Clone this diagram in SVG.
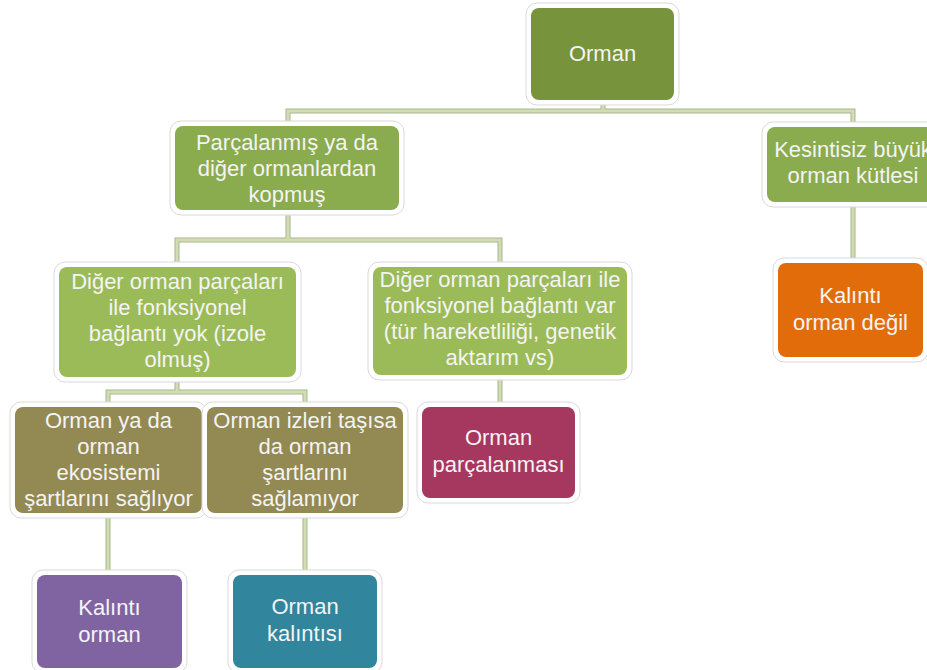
<svg xmlns="http://www.w3.org/2000/svg" width="927" height="670" viewBox="0 0 927 670">
<style>
.halo{fill:#ffffff;stroke:#d9d9d9;stroke-width:1}
.box{stroke:none}
.t{font-family:"Liberation Sans",Arial,sans-serif;font-size:22px;fill:#f4f4f4;text-anchor:middle}
.ce{fill:none;stroke:#a8b68c;stroke-width:5;stroke-linejoin:miter}
.ci{fill:none;stroke:#d2ddb4;stroke-width:3;stroke-linejoin:miter}
</style>
<rect width="927" height="670" fill="#ffffff"/>
<g id="connectors">
<path class="ce" d="M603,100V111M288,126V111H853V127M288,210V240M177,267V240H500V267M853,202V263M500,375V407M177,377V392M108,407V392H305V407M108,513V575M305,513V575"/>
<path class="ci" d="M603,100V111M288,126V111H853V127M288,210V240M177,267V240H500V267M853,202V263M500,375V407M177,377V392M108,407V392H305V407M108,513V575M305,513V575"/>
</g>
<g id="n-orman">
<rect class="halo" x="526" y="3" width="153" height="102" rx="11"/>
<rect class="box" x="531" y="8" width="143" height="92" rx="8" fill="#77933c"/>
<text class="t" x="602.5" y="61">Orman</text>
</g>
<g id="n-parcalanmis">
<rect class="halo" x="170" y="121" width="234" height="94" rx="11"/>
<rect class="box" x="175" y="126" width="224" height="84" rx="8" fill="#8aab4e"/>
<text class="t" x="287" y="150">Parçalanmış ya da</text>
<text class="t" x="287" y="176">diğer ormanlardan</text>
<text class="t" x="287" y="202">kopmuş</text>
</g>
<g id="n-kesintisiz">
<rect class="halo" x="762" y="122" width="182" height="85" rx="11"/>
<rect class="box" x="767" y="127" width="172" height="75" rx="8" fill="#8aab4e"/>
<text class="t" x="853" y="157">Kesintisiz büyük</text>
<text class="t" x="853" y="183">orman kütlesi</text>
</g>
<g id="n-kalinti-degil">
<rect class="halo" x="773" y="258" width="155" height="104" rx="11"/>
<rect class="box" x="778" y="263" width="145" height="94" rx="8" fill="#e36c0a"/>
<text class="t" x="850.5" y="303">Kalıntı</text>
<text class="t" x="850.5" y="330">orman değil</text>
</g>
<g id="n-izole">
<rect class="halo" x="54" y="262" width="247" height="120" rx="11"/>
<rect class="box" x="59" y="267" width="237" height="110" rx="8" fill="#9bbb59"/>
<text class="t" x="177.5" y="289">Diğer orman parçaları</text>
<text class="t" x="177.5" y="315">ile fonksiyonel</text>
<text class="t" x="177.5" y="341">bağlantı yok (izole</text>
<text class="t" x="177.5" y="367">olmuş)</text>
</g>
<g id="n-baglanti-var">
<rect class="halo" x="368" y="262" width="264" height="118" rx="11"/>
<rect class="box" x="373" y="267" width="254" height="108" rx="8" fill="#9bbb59"/>
<text class="t" x="500" y="287">Diğer orman parçaları ile</text>
<text class="t" x="500" y="313">fonksiyonel bağlantı var</text>
<text class="t" x="500" y="339">(tür hareketliliği, genetik</text>
<text class="t" x="500" y="365">aktarım vs)</text>
</g>
<g id="n-parcalanmasi">
<rect class="halo" x="417" y="402" width="163" height="101" rx="11"/>
<rect class="box" x="422" y="407" width="153" height="91" rx="8" fill="#a6375f"/>
<text class="t" x="498.5" y="445">Orman</text>
<text class="t" x="498.5" y="472">parçalanması</text>
</g>
<g id="n-sagliyor">
<rect class="halo" x="10" y="402" width="197" height="116" rx="11"/>
<rect class="box" x="15" y="407" width="187" height="106" rx="8" fill="#938953"/>
<text class="t" x="108.5" y="428">Orman ya da</text>
<text class="t" x="108.5" y="454">orman</text>
<text class="t" x="108.5" y="480">ekosistemi</text>
<text class="t" x="108.5" y="506">şartlarını sağlıyor</text>
</g>
<g id="n-saglamiyor">
<rect class="halo" x="202" y="402" width="206" height="116" rx="11"/>
<rect class="box" x="207" y="407" width="196" height="106" rx="8" fill="#938953"/>
<text class="t" x="305" y="428">Orman izleri taşısa</text>
<text class="t" x="305" y="454">da orman</text>
<text class="t" x="305" y="480">şartlarını</text>
<text class="t" x="305" y="506">sağlamıyor</text>
</g>
<g id="n-kalinti-orman">
<rect class="halo" x="32" y="570" width="155" height="103" rx="11"/>
<rect class="box" x="37" y="575" width="145" height="93" rx="8" fill="#8064a2"/>
<text class="t" x="109.5" y="615">Kalıntı</text>
<text class="t" x="109.5" y="642">orman</text>
</g>
<g id="n-orman-kalintisi">
<rect class="halo" x="228" y="570" width="154" height="103" rx="11"/>
<rect class="box" x="233" y="575" width="144" height="93" rx="8" fill="#31859c"/>
<text class="t" x="305" y="614">Orman</text>
<text class="t" x="305" y="641">kalıntısı</text>
</g>
</svg>
